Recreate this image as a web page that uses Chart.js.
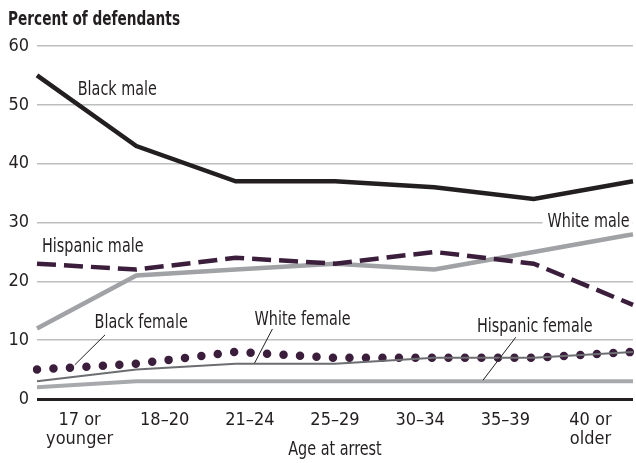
<!DOCTYPE html>
<html>
<head>
<meta charset="utf-8">
<script src="https://cdn.jsdelivr.net/npm/chart.js@4.4.0/dist/chart.umd.min.js"></script>
<style>
  html, body { margin: 0; padding: 0; background: #fff; }
</style>
</head>
<body>
<canvas id="chart" width="636" height="463"></canvas>
<script>
// Data
const categories = ['17 or younger', '18–20', '21–24', '25–29', '30–34', '35–39', '40 or older'];
const tickLabels = [['17 or', 'younger'], '18–20', '21–24', '25–29', '30–34', '35–39', ['40 or', 'older']];
const yTicks = [0, 10, 20, 30, 40, 50, 60];

const blackMale = [55, 43, 37, 37, 36, 34, 37];
const hispanicMale = [23, 22, 24, 23, 25, 23, 16];
const whiteMale = [12, 21, 22, 23, 22, 25, 28];
const blackFemale = [5, 6, 8, 7, 7, 7, 8];
const whiteFemale = [3, 5, 6, 6, 7, 7, 8];
const hispanicFemale = [2, 3, 3, 3, 3, 3, 3];

// Series labels: baseline-left corner as [category index, value],
// optional leader line [idx1, val1, idx2, val2]
const seriesLabels = [
    { text: 'Black male', at: [0.41, 51.7] },
    { text: 'Hispanic male', at: [0.05, 25.0] },
    { text: 'White male', at: [5.14, 29.2], knockout: true },
    { text: 'Black female', at: [0.58, 12.1], leader: [0.685, 10.9, 0.38, 5.8] },
    { text: 'White female', at: [2.19, 12.6], leader: [2.37, 11.9, 2.19, 6.1] },
    { text: 'Hispanic female', at: [4.43, 11.4], leader: [4.82, 10.5, 4.49, 3.2] }
];

const FONT = "'DejaVu Sans Condensed', 'DejaVu Sans', sans-serif";
const TEXT = '#231f20';
const SQUEEZE = 0.8; // narrow the label text a bit, the original face is condensed

// draw text squeezed horizontally
function narrowText(ctx, text, x, y, align) {
    ctx.save();
    ctx.translate(x, y);
    ctx.scale(SQUEEZE, 1);
    ctx.textAlign = align;
    ctx.fillText(text, 0, 0);
    ctx.restore();
}

const labelsPlugin = {
    id: 'seriesLabels',
    afterDatasetsDraw(chart) {
        const ctx = chart.ctx;
        const xs = chart.scales.x;
        const ys = chart.scales.y;
        ctx.save();
        ctx.font = '20px ' + FONT;
        ctx.textBaseline = 'alphabetic';
        seriesLabels.forEach(l => {
            const x = xs.getPixelForValue(l.at[0]);
            const y = ys.getPixelForValue(l.at[1]);
            if (l.knockout) {
                const w = ctx.measureText(l.text).width * SQUEEZE;
                ctx.fillStyle = '#fff';
                ctx.fillRect(x - 5, y - 17, w + 8, 22);
            }
            ctx.fillStyle = TEXT;
            narrowText(ctx, l.text, x, y, 'left');
            if (l.leader) {
                ctx.beginPath();
                ctx.strokeStyle = TEXT;
                ctx.lineWidth = 1;
                ctx.moveTo(xs.getPixelForValue(l.leader[0]), ys.getPixelForValue(l.leader[1]));
                ctx.lineTo(xs.getPixelForValue(l.leader[2]), ys.getPixelForValue(l.leader[3]));
                ctx.stroke();
            }
        });

        // titles
        ctx.font = 'bold 19px ' + FONT;
        narrowText(ctx, 'Percent of defendants', 8, 25, 'left');
        ctx.font = '20px ' + FONT;
        const area = chart.chartArea;
        narrowText(ctx, 'Age at arrest', (area.left + area.right) / 2, 455, 'center');
        ctx.restore();
    }
};

const ctx = document.getElementById('chart').getContext('2d');

new Chart(ctx, {
    type: 'line',
    data: {
        labels: categories,
        datasets: [
            { label: 'Black male', data: blackMale, borderColor: '#231f20', borderWidth: 4.5 },
            { label: 'White female', data: whiteFemale, borderColor: '#6d6e71', borderWidth: 2 },
            { label: 'Hispanic male', data: hispanicMale, borderColor: '#3b1e3b', borderWidth: 4.5, borderDash: [19, 8] },
            { label: 'White male', data: whiteMale, borderColor: '#a0a2a5', borderWidth: 4.5 },
            { label: 'Black female', data: blackFemale, borderColor: '#3b1e3b', borderWidth: 8.5, borderDash: [0, 16.5], borderCapStyle: 'round' },
            { label: 'Hispanic female', data: hispanicFemale, borderColor: '#a7a9ac', borderWidth: 4 }
        ].map(d => Object.assign({ pointRadius: 0, fill: false, tension: 0, borderJoinStyle: 'miter' }, d))
    },
    options: {
        responsive: false,
        animation: false,
        devicePixelRatio: 1,
        layout: { padding: { top: 46, right: 3, left: 0, bottom: 0 } },
        plugins: {
            legend: { display: false },
            tooltip: { enabled: false }
        },
        scales: {
            x: {
                type: 'category',
                offset: false,
                display: false
            },
            xLabels: {
                type: 'category',
                labels: tickLabels,
                position: 'bottom',
                offset: true,
                grid: { display: false, drawTicks: false },
                border: { display: false },
                ticks: {
                    autoSkip: false,
                    maxRotation: 0,
                    padding: 11,
                    color: TEXT,
                    font: { family: FONT, size: 18, lineHeight: 1.1 }
                },
                afterFit: s => { s.height = 64; }
            },
            y: {
                min: 0,
                max: 60,
                afterBuildTicks: s => { s.ticks = yTicks.map(v => ({ value: v })); },
                grid: {
                    drawTicks: false,
                    color: c => c.tick && c.tick.value === 0 ? '#231f20' : '#bcbec0',
                    lineWidth: c => c.tick && c.tick.value === 0 ? 3 : 1.5
                },
                border: { display: false },
                ticks: {
                    padding: 8,
                    color: TEXT,
                    font: { family: FONT, size: 18 }
                },
                afterFit: s => { s.width = 37; }
            }
        }
    },
    plugins: [labelsPlugin]
});
</script>
</body>
</html>
